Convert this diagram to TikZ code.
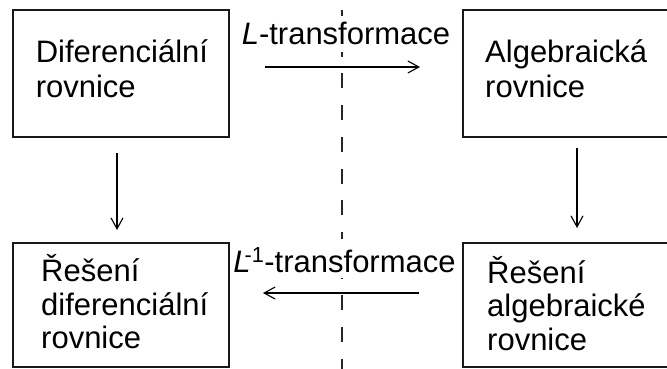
\documentclass[tikz,border=0pt]{standalone}
\usepackage{fontspec}
\setmainfont{Liberation Sans}
\usetikzlibrary{arrows.meta}
\begin{document}
\begin{tikzpicture}[x=1pt,y=-1pt,
  box/.style={draw=black!90, line width=1.8pt, inner sep=0pt, outer sep=0pt},
  txt/.style={anchor=base west, inner sep=0pt, font=\fontsize{31}{35}\selectfont},
  lbl/.style={anchor=base, inner ysep=0pt, inner xsep=1pt, fill=white,
              font=\fontsize{31}{35}\selectfont},
  arr/.style={draw=black, line width=1.3pt,
              -{Straight Barb[length=11pt,width=12pt,line width=1.1pt]}},
  axis/.style={draw=black!85, line width=1.8pt, dash pattern=on 15pt off 16.7pt}
]
\useasboundingbox (0,0) rectangle (667,369);

% the four boxes
\node[box, minimum width=216pt, minimum height=127pt] (A) at (121,73.5) {};
\node[box, minimum width=209pt, minimum height=127pt] (B) at (567.5,73.5) {};
\node[box, minimum width=216pt, minimum height=124pt] (C) at (121,305) {};
\node[box, minimum width=209pt, minimum height=124pt] (D) at (567.5,305) {};

% box texts
\node[txt] (At) at (35.6,63) {\vtop{\hbox{Diferenciální}\hbox{rovnice}}};
\node[txt] (Bt) at (485,62.5) {\vtop{\hbox{Algebraická}\hbox{rovnice}}};
\node[txt, font=\fontsize{31}{33.5}\selectfont] (Ct) at (41,281.5)
  {\vtop{\hbox{Řešení}\hbox{diferenciální}\hbox{rovnice}}};
\node[txt, font=\fontsize{31}{33.5}\selectfont] (Dt) at (487,283)
  {\vtop{\hbox{Řešení}\hbox{algebraické}\hbox{rovnice}}};

% dividing dashed line
\coordinate (axtop) at (342,10);
\coordinate (axbot) at (342,372);
\draw[axis] (axtop) -- (axbot);

% transform labels, masking the dashed line
\node[lbl, text height=29pt, text depth=7pt] (Lf) at (346,45) {\textit{L}-transformace};
\node[lbl, text height=33pt, text depth=6pt] (Li) at (344.5,272)
  {\textit{L}\kern-6pt\textsuperscript{-1}-transformace};

% connectors
\draw[arr, shorten <=16pt, shorten >=13pt] ([xshift=-4pt]A.south) -- ([xshift=-4pt]C.north);
\draw[arr, shorten <=11pt, shorten >=15pt] ([xshift=9.5pt]B.south) -- ([xshift=9.5pt]D.north);
\draw[arr, shorten <=36pt, shorten >=43pt] ([yshift=6.5pt]A.east) -- ([yshift=6.5pt]B.west);
\draw[arr, shorten <=44pt, shorten >=34pt] ([yshift=12pt]D.west) -- ([yshift=12pt]C.east);
\end{tikzpicture}
\end{document}
